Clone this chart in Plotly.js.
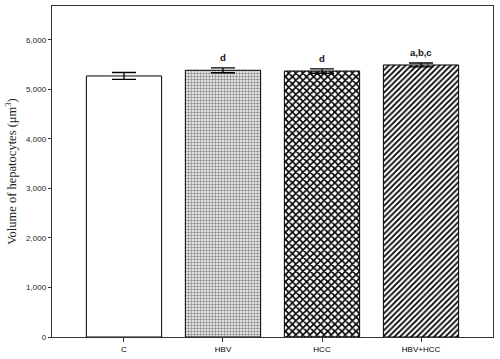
<!DOCTYPE html>
<html>
<head>
<meta charset="utf-8">
<script src="https://cdn.plot.ly/plotly-3.0.1.min.js"></script>
<style>html,body{margin:0;padding:0;background:#fff;}#chart{width:500px;height:359px;}</style>
</head>
<body>
<div id="chart"></div>
<script>
const categories = ["C", "HBV", "HCC", "HBV+HCC"];
const volumes = [5268, 5383, 5368, 5490];
const errors = [70, 50, 45, 40];
const sigLabels = ["", "d", "d", "a,b,c"];
const yTicks = [0, 1000, 2000, 3000, 4000, 5000, 6000];

const patternShapes = ["", ".", "x", "/"];
const patternFg = ["#000", "#8a8a8a", "#000", "#000"];
const patternSize = [4, 3, 5, 4];
const patternSolidity = [0.3, 0.5, 0.55, 0.45];

const bar = {
  type: "bar",
  x: categories,
  y: volumes,
  width: 0.76,
  marker: {
    color: "#ffffff",
    line: {color: "#000", width: 1},
    pattern: {
      shape: patternShapes,
      fgcolor: patternFg,
      bgcolor: "#ffffff",
      size: patternSize,
      solidity: patternSolidity,
      fillmode: "replace"
    }
  },
  error_y: {type: "data", array: errors, visible: true, color: "#000", thickness: 1.3, width: 12},
  hoverinfo: "none"
};

const annotations = [];
categories.forEach((c, i) => {
  if (!sigLabels[i]) return;
  annotations.push({
    x: c, y: volumes[i] + errors[i], xref: "x", yref: "y",
    text: sigLabels[i], showarrow: false, yanchor: "bottom", yshift: 3,
    font: {family: "Liberation Sans, Arial, sans-serif", size: 9.5, color: "#111", weight: "bold"}
  });
});

const layout = {
  width: 500, height: 359,
  margin: {l: 52, r: 7, t: 6, b: 22},
  paper_bgcolor: "#fff", plot_bgcolor: "#fff",
  showlegend: false,
  font: {color: "#222", family: "Liberation Sans, Arial, sans-serif"},
  xaxis: {
    type: "category",
    range: [-0.727, 3.727],
    showline: true, linecolor: "#333", linewidth: 1.3, mirror: true,
    ticks: "outside", ticklen: 4, tickcolor: "#333",
    tickfont: {family: "Liberation Sans, Arial, sans-serif", size: 8, color: "black"},
    showgrid: false, zeroline: false
  },
  yaxis: {
    range: [0, 6680],
    tickvals: yTicks,
    tickformat: ",",
    showline: true, linecolor: "#333", linewidth: 1.3, mirror: true,
    ticks: "outside", ticklen: 3, tickcolor: "#333",
    tickfont: {family: "Liberation Sans, Arial, sans-serif", size: 8, color: "#222222"},
    showgrid: false, zeroline: false,
    title: {text: "Volume of hepatocytes (μm<sup>3</sup>)", standoff: 6,
      font: {family: "Liberation Serif, Times New Roman, serif", size: 12.5, color: "#222222"}}
  },
  annotations: annotations
};

Plotly.newPlot("chart", [bar], layout, {staticPlot: true, displayModeBar: false});
</script>
</body>
</html>
